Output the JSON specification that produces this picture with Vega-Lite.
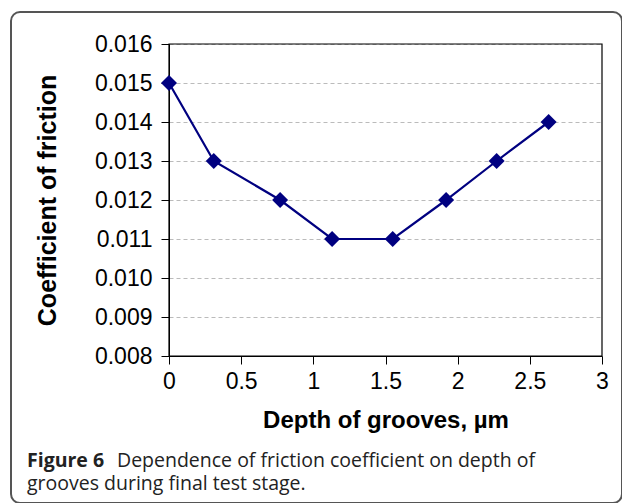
{
  "$schema": "https://vega.github.io/schema/vega-lite/v6.json",
  "autosize": {"type": "none"},
  "padding": {"left": 11, "top": 12, "right": 0, "bottom": 0},
  "width": 611,
  "height": 491,
  "background": "white",
  "config": {
    "view": {"stroke": "#555555", "strokeWidth": 2, "cornerRadius": 9, "fill": "white"},
    "font": "Liberation Sans"
  },
  "title": {
    "text": "Figure 6",
    "subtitle": ["\u2800\u2800\u2800\u2800\u2800\u2800Dependence of friction coefficient on depth of", "grooves during final test stage."],
    "orient": "bottom",
    "anchor": "start",
    "frame": "group",
    "offset": -51,
    "dx": 16,
    "font": "Open Sans",
    "fontSize": 19.5,
    "fontWeight": "bold",
    "color": "#222222",
    "subtitleFont": "Open Sans",
    "subtitleFontSize": 19.5,
    "subtitleColor": "#222222",
    "subtitlePadding": -19.5,
    "subtitleLineHeight": 23
  },
  "data": {
    "values": [
      {"depth": 0, "cof": 0.015},
      {"depth": 0.31, "cof": 0.013},
      {"depth": 0.77, "cof": 0.012},
      {"depth": 1.13, "cof": 0.011},
      {"depth": 1.55, "cof": 0.011},
      {"depth": 1.92, "cof": 0.012},
      {"depth": 2.27, "cof": 0.013},
      {"depth": 2.63, "cof": 0.014}
    ]
  },
  "layer": [
    {
      "data": {"values": [{}]},
      "mark": {"type": "rect", "filled": false, "stroke": "black", "strokeWidth": 1.2},
      "encoding": {
        "x": {"datum": 0, "type": "quantitative"},
        "x2": {"datum": 3},
        "y": {"datum": 0.008, "type": "quantitative"},
        "y2": {"datum": 0.016}
      }
    },
    {
      "mark": {"type": "line", "color": "#000080", "strokeWidth": 2.2},
      "encoding": {
        "x": {
          "field": "depth",
          "type": "quantitative",
          "scale": {"domain": [0, 3], "range": [158, 591], "nice": false, "zero": false},
          "axis": {
            "title": "Depth of grooves, µm",
            "values": [0, 0.5, 1, 1.5, 2, 2.5, 3],
            "format": "~g",
            "offset": -147,
            "grid": false,
            "domainColor": "black",
            "tickColor": "black",
            "tickSize": 8,
            "labelFont": "Liberation Sans",
            "labelFontSize": 23,
            "labelColor": "black",
            "labelPadding": 6,
            "labelFlush": false,
            "labelOverlap": false,
            "titleFont": "Liberation Sans",
            "titleFontSize": 24,
            "titleFontWeight": "bold",
            "titleColor": "black",
            "titlePadding": 15
          }
        },
        "y": {
          "field": "cof",
          "type": "quantitative",
          "scale": {"domain": [0.008, 0.016], "range": [344, 32], "nice": false, "zero": false},
          "axis": {
            "title": "Coefficient of friction",
            "values": [0.008, 0.009, 0.01, 0.011, 0.012, 0.013, 0.014, 0.015, 0.016],
            "format": ".3f",
            "offset": -158,
            "grid": true,
            "gridColor": "#bbbbbb",
            "gridDash": [4, 3],
            "domainColor": "black",
            "tickColor": "black",
            "tickSize": 8,
            "labelFont": "Liberation Sans",
            "labelFontSize": 23,
            "labelColor": "black",
            "labelPadding": 9,
            "labelOverlap": false,
            "titleFont": "Liberation Sans",
            "titleFontSize": 25,
            "titleFontWeight": "bold",
            "titleColor": "black",
            "titlePadding": 34
          }
        }
      }
    },
    {
      "mark": {"type": "point", "shape": "diamond", "filled": true, "size": 256, "color": "#000080", "opacity": 1},
      "encoding": {
        "x": {"field": "depth", "type": "quantitative"},
        "y": {"field": "cof", "type": "quantitative"}
      }
    }
  ]
}
